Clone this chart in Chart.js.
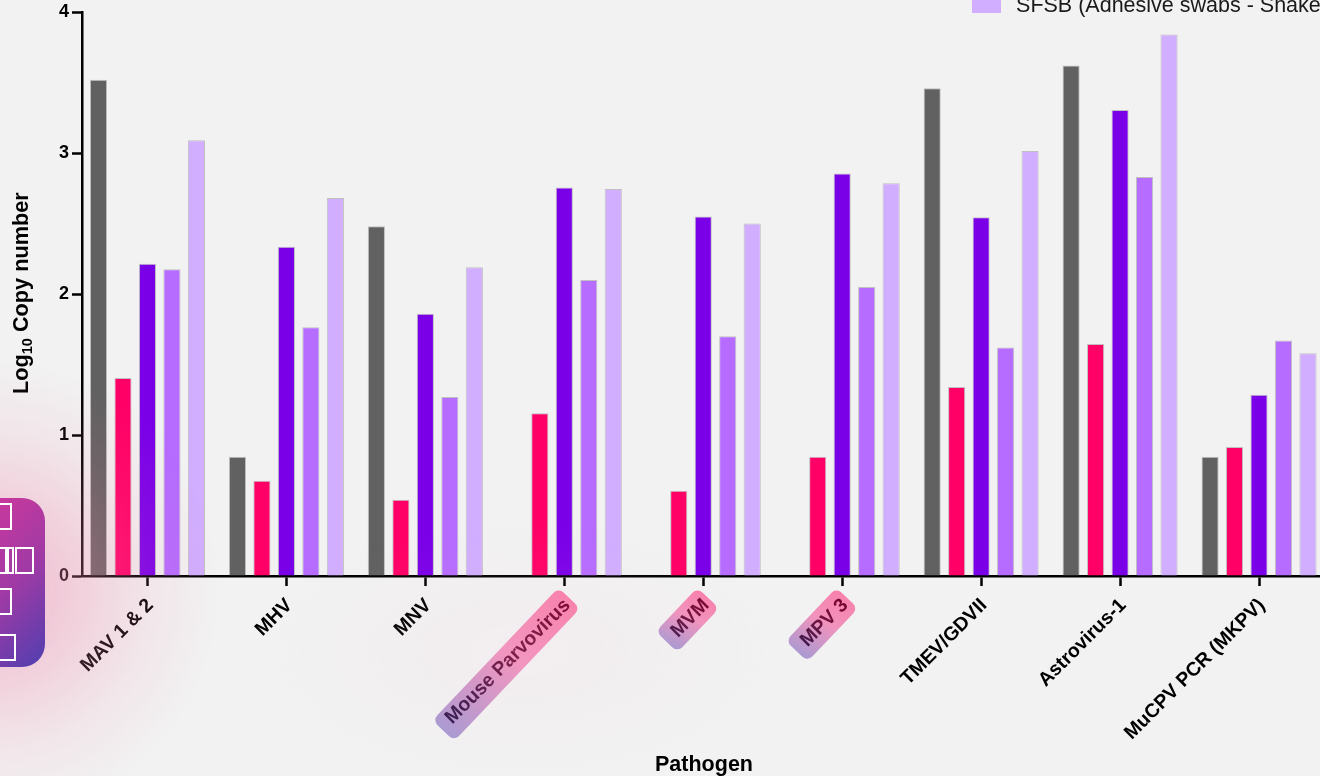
<!DOCTYPE html>
<html>
<head>
<meta charset="utf-8">
<title>Pathogen copy number</title>
<script src="https://cdn.jsdelivr.net/npm/chart.js@4"></script>
<style>
  html, body { margin: 0; padding: 0; width: 1320px; height: 776px; overflow: hidden; background: #f2f2f2; }
  canvas { position: absolute; left: 0; top: 0; }
  #glow {
    position: absolute; left: 0; top: 0; width: 1320px; height: 776px; pointer-events: none;
    background:
      radial-gradient(circle 230px at -10px 590px, rgba(240,130,170,0.5), rgba(240,130,170,0.32) 35%, rgba(240,130,170,0.1) 70%, rgba(240,130,170,0) 100%),
      radial-gradient(ellipse 260px 130px at 520px 650px, rgba(255,190,220,0.09), rgba(255,190,220,0) 100%);
  }
  #dock {
    position: absolute; left: -40px; top: 498px; width: 84.5px; height: 169px; border-radius: 23px;
    background: linear-gradient(135deg, #d8389a 0%, #a03aa5 55%, #4f3fb0 100%);
  }
  #dock div { position: absolute; box-sizing: border-box; border: 2px solid #fff; }
</style>
</head>
<body>
<canvas id="chart" width="1326" height="776"></canvas>
<div id="glow"></div>
<div id="dock">
  <div style="left:30px;top:5px;width:22px;height:27px"></div>
  <div style="left:30px;top:49px;width:17px;height:27px"></div>
  <div style="left:47px;top:49px;width:7px;height:27px"></div>
  <div style="left:55px;top:49px;width:19px;height:27px"></div>
  <div style="left:30px;top:90px;width:22px;height:27px"></div>
  <div style="left:30px;top:136px;width:26px;height:27px"></div>
</div>
<script>
const categories = ['MAV 1 & 2', 'MHV', 'MNV', 'Mouse Parvovirus', 'MVM', 'MPV 3', 'TMEV/GDVII', 'Astrovirus-1', 'MuCPV PCR (MKPV)'];
const highlighted = ['Mouse Parvovirus', 'MVM', 'MPV 3'];
const yTicks = [0, 1, 2, 3, 4];

const grayValues = [3.52, 0.845, 2.48, null, null, null, 3.46, 3.62, 0.845];
const pinkValues = [1.405, 0.675, 0.54, 1.155, 0.605, 0.845, 1.34, 1.645, 0.915];
const violetValues = [2.215, 2.335, 1.86, 2.755, 2.55, 2.855, 2.545, 3.305, 1.285];
const purpleValues = [2.175, 1.765, 1.27, 2.10, 1.70, 2.05, 1.62, 2.83, 1.67];
const lilacValues = [3.09, 2.68, 2.19, 2.745, 2.50, 2.785, 3.015, 3.84, 1.58];

const seriesLabels = ['Series 1', 'Series 2', 'Series 3', 'Series 4', 'SFSB (Adhesive swabs - Shake'];
const seriesColors = ['#616161', '#ff0066', '#7a00e8', '#b56cff', '#d1aeff'];
const seriesValues = [grayValues, pinkValues, violetValues, purpleValues, lilacValues];

const font = 'Liberation Sans, Arial, sans-serif';

function makeDataset(values, i) {
  return {
    label: seriesLabels[i],
    data: values.map((v, x) => ({ x: x, y: v })),
    backgroundColor: seriesColors[i],
    borderColor: 'rgba(130,130,130,0.45)',
    borderWidth: 1,
    categoryPercentage: 0.881,
    barPercentage: 0.7
  };
}

// legend only shows the last entry, the others are above the top of the picture
const placeLegend = {
  id: 'placeLegend',
  afterLayout(chart) {
    const legend = chart.legend;
    legend.left = 972;
    legend.top = -4.25;
    legend.right = 1326;
    legend.bottom = 40;
  }
};

// rounded gradient tags over some of the x labels
const labelTags = {
  id: 'labelTags',
  afterDraw(chart) {
    const ctx = chart.ctx;
    const xScale = chart.scales.x;
    const yBase = chart.scales.y.getPixelForValue(0);
    ctx.save();
    ctx.font = 'bold 19.5px ' + font;
    xScale.ticks.forEach((t, i) => {
      const name = categories[t.value];
      if (!highlighted.includes(name)) return;
      const len = ctx.measureText(name).width + 15;
      ctx.save();
      ctx.translate(xScale.getPixelForTick(i) + 5, yBase + 22);
      ctx.rotate(-46.5 * Math.PI / 180);
      const grad = ctx.createLinearGradient(-len, 10, 0, -10);
      grad.addColorStop(0, 'rgba(85,55,175,0.47)');
      grad.addColorStop(0.55, 'rgba(240,40,130,0.47)');
      grad.addColorStop(1, 'rgba(255,0,90,0.47)');
      ctx.fillStyle = grad;
      ctx.beginPath();
      ctx.roundRect(-len, -15, len, 30, 7);
      ctx.fill();
      ctx.restore();
    });
    ctx.restore();
  }
};

// y title needs a real subscript, which the axis title option can't do
const yAxisTitle = {
  id: 'yAxisTitle',
  afterDraw(chart) {
    const ctx = chart.ctx;
    const parts = [['Log', 21.7, 0], ['10', 14.5, 4], [' Copy number', 21.7, 0]];
    ctx.save();
    ctx.translate(28, 394);
    ctx.rotate(-Math.PI / 2);
    ctx.fillStyle = '#000';
    ctx.textBaseline = 'alphabetic';
    let x = 0;
    parts.forEach(p => {
      ctx.font = 'bold ' + p[1] + 'px ' + font;
      ctx.fillText(p[0], x, p[2]);
      x += ctx.measureText(p[0]).width;
    });
    ctx.restore();
  }
};

new Chart(document.getElementById('chart'), {
  type: 'bar',
  data: { datasets: seriesValues.map(makeDataset) },
  plugins: [placeLegend, labelTags, yAxisTitle],
  options: {
    responsive: false,
    animation: false,
    layout: { padding: { top: 12, right: 0, bottom: 0, left: 0 } },
    plugins: {
      tooltip: { enabled: false },
      title: { display: false },
      legend: {
        position: 'chartArea',
        align: 'start',
        labels: {
          boxWidth: 29,
          boxHeight: 13,
          padding: 0,
          color: '#1a1a1a',
          font: { family: font, size: 21.5 },
          generateLabels(chart) {
            return Chart.defaults.plugins.legend.labels.generateLabels(chart)
              .map(item => ({ ...item, text: '\u2009' + item.text, lineWidth: 0 }));
          },
          filter: item => item.datasetIndex === 4
        }
      }
    },
    scales: {
      x: {
        type: 'linear',
        offset: false,
        min: -0.4712,
        max: 8.482,
        afterBuildTicks(scale) {
          scale.ticks = categories.map((c, i) => ({ value: i }));
        },
        afterFit(scale) { scale.height = 200; },
        grid: { offset: false, drawOnChartArea: false, tickLength: 10, tickWidth: 2.5, tickColor: '#000' },
        border: { color: '#000', width: 2.5 },
        ticks: {
          autoSkip: false,
          minRotation: 45,
          maxRotation: 45,
          padding: 8,
          labelOffset: 3,
          color: '#000',
          font: { family: font, size: 19.5, weight: 'bold' },
          callback: v => categories[v]
        },
        title: {
          display: true,
          text: 'Pathogen',
          color: '#000',
          padding: { top: 0, bottom: 0 },
          font: { family: font, size: 21.5, weight: 'bold', lineHeight: 1 }
        }
      },
      y: {
        min: 0,
        max: 4,
        afterBuildTicks(scale) {
          scale.ticks = yTicks.map(v => ({ value: v }));
        },
        afterFit(scale) {
          scale.width = 82;
          scale.paddingTop = 0;
          scale.paddingBottom = 0;
        },
        grid: { drawOnChartArea: false, tickLength: 10, tickWidth: 2.5, tickColor: '#000' },
        border: { color: '#000', width: 2.5 },
        ticks: {
          padding: 3,
          color: '#000',
          font: { family: font, size: 18, weight: 'bold' }
        }
      }
    }
  }
});
</script>
</body>
</html>
